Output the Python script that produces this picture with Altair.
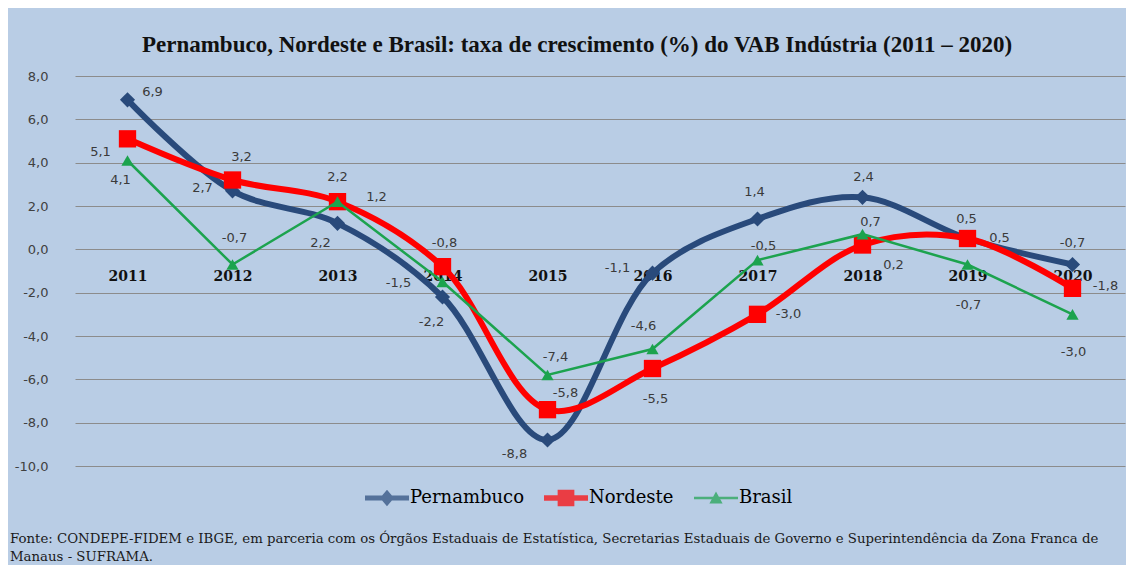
import altair as alt
import pandas as pd

# ---------------- data ----------------
anos = ["2011", "2012", "2013", "2014", "2015", "2016", "2017", "2018", "2019", "2020"]
series = ["Pernambuco", "Nordeste", "Brasil"]
pernambuco = [6.9, 2.7, 1.2, -2.2, -8.8, -1.1, 1.4, 2.4, 0.5, -0.7]
nordeste = [5.1, 3.2, 2.2, -0.8, -7.4, -5.5, -3.0, 0.2, 0.5, -1.8]
brasil = [4.1, -0.7, 2.2, -1.5, -5.8, -4.6, -0.5, 0.7, -0.7, -3.0]
y_ticks = [-10, -8, -6, -4, -2, 0, 2, 4, 6, 8]

titulo = "Pernambuco, Nordeste e Brasil: taxa de crescimento (%) do VAB Indústria (2011 – 2020)"
fonte_1 = ("Fonte: CONDEPE-FIDEM e IBGE, em parceria com os Órgãos Estaduais de Estatística, "
           "Secretarias Estaduais de Governo e Superintendência da Zona Franca de")
fonte_2 = "Manaus - SUFRAMA."

# ---------------- styling ----------------
cores = {"Pernambuco": "#294A7B", "Nordeste": "#FF0000", "Brasil": "#1CA34E"}
larguras = {"Pernambuco": 6, "Nordeste": 6, "Brasil": 2.5}
interp = {"Pernambuco": "catmull-rom", "Nordeste": "catmull-rom", "Brasil": "linear"}
formas = {"Pernambuco": "diamond", "Nordeste": "square", "Brasil": "triangle-up"}
tamanhos = {"Pernambuco": 230, "Nordeste": 300, "Brasil": 150}
# legend symbols: line segment + marker, in the [-1, 1] symbol box
simbolos = {
    "Pernambuco": "M-1,-0.11H1V0.11H-1Z M-0.32,0L0,-0.38L0.32,0L0,0.38Z",
    "Nordeste": "M-1,-0.12H1V0.12H-1Z M-0.38,-0.38H0.38V0.38H-0.38Z",
    "Brasil": "M-1,-0.06H1V0.06H-1Z M-0.3,0.25L0,-0.3L0.3,0.25Z",
}
# data-label offsets (pixels) for each series, in year order
deslocamentos = {
    "Pernambuco": [(25, -8), (-30, -3), (39, -26), (-11, 25), (-33, 14), (-35, -5), (-3, -27), (1, -20), (32, -1), (0, -22)],
    "Nordeste": [(-27, 13), (9, -23), (0, -25), (2, -24), (8, -53), (3, 30), (31, 0), (31, 20), (-1, -20), (33, -2)],
    "Brasil": [(-7, 19), (2, -27), (-17, 41), (-44, 1), (18, 18), (-9, -23), (6, -14), (8, -12), (1, 40), (1, 38)],
}

W, H = 1050, 390
Y_MIN, Y_MAX = -10, 8
BG = "#B9CDE5"

valores = {"Pernambuco": pernambuco, "Nordeste": nordeste, "Brasil": brasil}
linhas = []
for s in series:
    for a, v in zip(anos, valores[s]):
        linhas.append({"ano": a, "serie": s, "valor": v,
                       "rotulo": f"{v:.1f}".replace(".", ",")})
df = pd.DataFrame(linhas)

x_enc = alt.X(
    "ano:O",
    scale=alt.Scale(padding=0.5),
    axis=alt.Axis(
        title=None, orient="bottom", offset=-H * (0 - Y_MIN) / (Y_MAX - Y_MIN),
        domain=False, ticks=False, grid=False, labelAngle=0, labelPadding=20,
        labelFont="DejaVu Serif", labelFontWeight="bold", labelFontSize=14,
        labelColor="#111111",
    ),
)
y_enc = alt.Y(
    "valor:Q",
    scale=alt.Scale(domain=[Y_MIN, Y_MAX], nice=False, zero=False),
    axis=alt.Axis(
        title=None, values=y_ticks, grid=True, gridColor="#8C8C8C", gridWidth=1,
        domain=False, ticks=False, labelPadding=27, labelFont="DejaVu Sans",
        labelFontSize=13, labelColor="#404040",
        labelExpr="replace(replace(format(datum.value, '.1f'), '.', ','), '\u2212', '-')",
    ),
)

camadas = []
for s in series:
    base = alt.Chart(df).transform_filter(alt.datum.serie == s)
    camadas.append(
        base.mark_line(color=cores[s], strokeWidth=larguras[s], interpolate=interp[s])
        .encode(x=x_enc, y=y_enc)
    )
    camadas.append(
        base.mark_point(shape=formas[s], size=tamanhos[s], filled=True,
                        color=cores[s], opacity=1)
        .encode(x=x_enc, y=y_enc)
    )

for s in series:
    for a, (dx, dy) in zip(anos, deslocamentos[s]):
        camadas.append(
            alt.Chart(df)
            .transform_filter((alt.datum.serie == s) & (alt.datum.ano == a))
            .mark_text(dx=dx, dy=dy, font="DejaVu Sans", fontSize=13,
                       color="#3A3A3A", align="center", baseline="middle")
            .encode(x=x_enc, y=y_enc, text="rotulo:N")
        )

# legend (scales only; no marks drawn)
legenda = alt.Legend(
    title=None, orient="none", legendX=290, legendY=400, direction="horizontal",
    symbolSize=1936, symbolStrokeWidth=0, labelFont="DejaVu Serif",
    labelFontSize=18, labelColor="#000000", labelOffset=1, columnPadding=20,
    padding=0,
)
camadas.append(
    alt.Chart(df)
    .transform_filter(alt.datum.serie == "nenhuma")
    .mark_point(filled=True, size=1936)
    .encode(
        color=alt.Color("serie:N", scale=alt.Scale(domain=series, range=[cores[s] for s in series]),
                        legend=legenda),
        shape=alt.Shape("serie:N", scale=alt.Scale(domain=series, range=[simbolos[s] for s in series]),
                        legend=legenda),
    )
)

# title and source notes
camadas.append(
    alt.Chart(pd.DataFrame({"t": [titulo]}))
    .mark_text(font="Liberation Serif", fontWeight="bold", fontSize=23, color="#111111",
               align="center", baseline="middle")
    .encode(text="t:N", x=alt.value(502), y=alt.value(-31))
)
camadas.append(
    alt.Chart(pd.DataFrame({"t": [fonte_1]}))
    .mark_text(font="DejaVu Serif", fontSize=13.3, color="#1A1A1A",
               align="left", baseline="middle")
    .encode(text="t:N", x=alt.value(-65), y=alt.value(463))
)
camadas.append(
    alt.Chart(pd.DataFrame({"t": [fonte_2]}))
    .mark_text(font="DejaVu Serif", fontSize=13.3, color="#1A1A1A",
               align="left", baseline="middle")
    .encode(text="t:N", x=alt.value(-65), y=alt.value(481))
)

chart = (
    alt.layer(*camadas)
    .properties(
        width=W, height=H,
        autosize=alt.AutoSizeParams(type="none"),
        padding={"left": 67, "top": 68, "right": 1, "bottom": 99},
        background=BG,
    )
    .configure_view(fill="white", strokeWidth=0)
)

chart.save("out.html", embed_options={"renderer": "svg", "actions": False})
